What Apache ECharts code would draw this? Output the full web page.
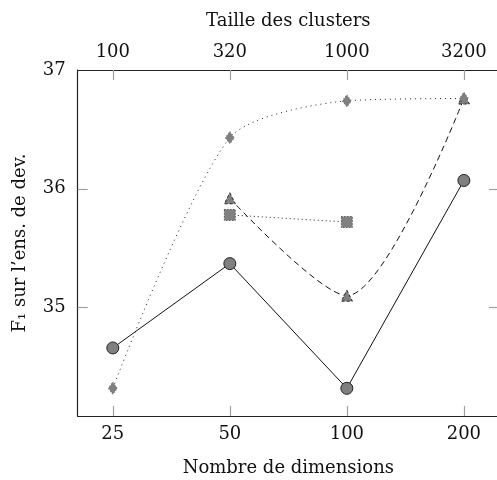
<!DOCTYPE html>
<html>
<head>
<meta charset="utf-8">
<script src="https://cdn.jsdelivr.net/npm/echarts@6/dist/echarts.min.js"></script>
<style>
html,body{margin:0;padding:0;background:#fff;}
#c{width:497px;height:480px;}
</style>
</head>
<body>
<div id="c"></div>
<script>
// Data
const dimensions = [25, 50, 100, 200];          // bottom axis categories
const clusterSizes = [100, 320, 1000, 3200];     // top axis labels
const yTicks = [35, 36, 37];
const circleSeries = [34.66, 35.37, 34.32, 36.07];   // solid, circles
const diamondSeries = [34.32, 36.43, 36.74, 36.76];  // dotted smooth, diamonds
const triangleSeries = [null, 35.92, 35.10, 36.76];  // dashed smooth, triangles
const squareSeries = [null, 35.78, 35.72, null];     // dotted, squares

const positions = dimensions.map((d, i) => i);
const toData = arr => arr.map((v, i) => [positions[i], v]).filter(p => p[1] !== null);

const FONT = 'DejaVu Serif';
const FS = 18;
const axisLineStyle = {color: '#222', width: 1.2};
const tickStyle = {color: '#a0a0a0', width: 1.2};
const fill = '#808080';

function xAx(pos, labels, name, gap) {
  return {
    type: 'value', position: pos, min: -0.3, max: 3.3,
    name: name, nameLocation: 'middle', nameGap: gap,
    nameTextStyle: {fontFamily: FONT, fontSize: FS, color: '#111'},
    axisLine: {show: true, onZero: false, lineStyle: axisLineStyle},
    axisTick: {show: true, inside: true, length: 10, lineStyle: tickStyle, customValues: positions},
    axisLabel: {show: true, margin: 9, fontFamily: FONT, fontSize: FS, color: '#111',
      customValues: positions, formatter: v => String(labels[Math.round(v)])},
    splitLine: {show: false},
    z: 1
  };
}
function yAx(pos, showLabels, name) {
  return {
    type: 'value', position: pos, min: 34.087, max: 37,
    name: name, nameLocation: 'middle', nameGap: 48,
    nameTextStyle: {fontFamily: FONT, fontSize: FS, color: '#111'},
    axisLine: {show: true, onZero: false, lineStyle: axisLineStyle},
    axisTick: {show: true, inside: true, length: 10, lineStyle: tickStyle,
      customValues: yTicks.filter(t => t < 37)},
    axisLabel: {show: showLabels, margin: 12, fontFamily: FONT, fontSize: FS, color: '#111',
      customValues: yTicks, formatter: v => String(Math.round(v))},
    splitLine: {show: false}
  };
}

const chart = echarts.init(document.getElementById('c'), null, {renderer: 'canvas'});
chart.setOption({
  animation: false,
  backgroundColor: '#fff',
  grid: {left: 77.7, right: -2, top: 70, bottom: 64, containLabel: false, outerBoundsMode: 'none'},
  xAxis: [
    xAx('bottom', dimensions, 'Nombre de dimensions', 43),
    xAx('top', clusterSizes, 'Taille des clusters', 40)
  ],
  yAxis: [
    yAx('left', true, 'F₁ sur l’ens. de dev.'),
    yAx('right', false, '')
  ],
  series: [
    {
      type: 'line', data: toData(circleSeries), xAxisIndex: 0, yAxisIndex: 0,
      symbol: 'circle', symbolSize: 12, showSymbol: true,
      lineStyle: {color: '#111', width: 1, type: 'solid'},
      itemStyle: {color: fill, borderColor: '#222', borderWidth: 1}
    },
    {
      type: 'line', data: toData(triangleSeries), smooth: 0.28,
      symbol: 'triangle', symbolSize: 11,
      lineStyle: {color: '#111', width: 1, type: [6, 4]},
      itemStyle: {color: fill, borderColor: '#222', borderWidth: 1, borderType: [3, 2]}
    },
    {
      type: 'line', data: toData(diamondSeries), smooth: 0.25,
      symbol: 'diamond', symbolSize: [9, 12],
      lineStyle: {color: '#222', width: 1, type: [1, 4]},
      itemStyle: {color: fill, borderColor: '#666', borderWidth: 1, borderType: [1, 2]}
    },
    {
      type: 'line', data: toData(squareSeries),
      symbol: 'rect', symbolSize: 11,
      lineStyle: {color: '#222', width: 1, type: [1, 3]},
      itemStyle: {color: fill, borderColor: '#222', borderWidth: 1, borderType: [1, 2]}
    }
  ]
});
</script>
</body>
</html>
